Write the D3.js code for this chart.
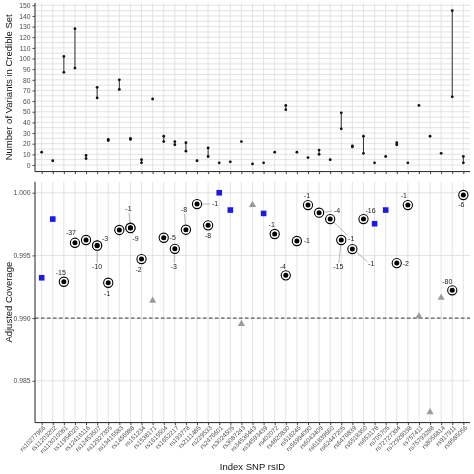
<!DOCTYPE html>
<html><head><meta charset="utf-8">
<script src="https://cdn.jsdelivr.net/npm/d3@7"></script>
<style>body{margin:0;background:transparent}svg{display:block;will-change:transform}text{font-family:"Liberation Sans",Arial,sans-serif}</style>
</head><body><svg id="c" width="474" height="474"></svg>
<script>
// ---------- DATA ----------
const snps = ["rs10277966","rs11203202","rs113010081","rs11954020","rs12416116","rs12453507","rs12927355","rs13415583","rs1456988","rs151234","rs1538171","rs1615504","rs1652217","rs193778","rs2111485","rs229533","rs2476601","rs3024505","rs3087243","rs34536443","rs34593439","rs402072","rs4820830","rs516246","rs56994090","rs6043409","rs61839660","rs62447205","rs6476839","rs6518350","rs653178","rs705705","rs72727394","rs72928038","rs757411","rs75793288","rs8056814","rs917911","rs9585056"];
// number of variants in credible set: min and max per index SNP
const nvarMin = [12,4,87,91,6,63,23,71,24,2,62,22,19,13,4,8,2,3,22,1,2,12,52,12,7,10,5,34,17,11,2,8,19,2,56,27,11,64,2];
const nvarMax = [12,4,102,128,9,73,24,80,25,5,62,27,22,21,4,16,2,3,22,1,2,12,56,12,7,14,5,49,18,27,2,8,21,2,56,27,11,145,8];
// adjusted coverage points
const covSnp = ["rs10277966","rs11203202","rs113010081","rs11954020","rs12416116","rs12453507","rs12453507","rs12927355","rs13415583","rs1456988","rs1456988","rs151234","rs1538171","rs1615504","rs1652217","rs193778","rs2111485","rs229533","rs2476601","rs3024505","rs3087243","rs34536443","rs34593439","rs402072","rs4820830","rs516246","rs56994090","rs6043409","rs61839660","rs62447205","rs6476839","rs6518350","rs653178","rs705705","rs72727394","rs72928038","rs757411","rs75793288","rs8056814","rs917911","rs9585056"];
const covValue = [0.99322,0.99790,0.99290,0.99601,0.99623,0.99581,0.99578,0.99282,0.99703,0.99721,0.99718,0.99471,0.99144,0.99641,0.99553,0.99705,0.99910,0.99740,1.00000,0.99862,0.98958,0.99907,0.99835,0.99671,0.99341,0.99615,0.99902,0.99841,0.99790,0.99623,0.99551,0.99790,0.99753,0.99862,0.99439,0.99902,0.99019,0.98254,0.99166,0.99222,0.99982];
const covType = ["square","square","bull","bull","bull","bull","bull","bull","bull","bull","bull","bull","triangle","bull","bull","bull","bull","bull","square","square","triangle","triangle","square","bull","bull","bull","bull","bull","bull","bull","bull","bull","square","square","bull","bull","triangle","triangle","triangle","bull","bull"];
const covLabel = [null,null,"-15","-37",null,"-3","-10","-1",null,"-1","-9","-2",null,"-5","-3","-8","-1","-8",null,null,null,null,null,"-1","-4","-1","-1","-4","-1","-15","-1","-16",null,null,"-2","-1",null,null,null,"-80","-6"];
const nvarTicks = d3.range(0,151,10);
const covTicks = [0.985,0.990,0.995,1.000];
const covThreshold = 0.990;

// ---------- LAYOUT ----------
// label offsets (px) from their point, mimicking the repelled placement
const labelNudge = [null,null,[-3,-9],[-4,-10],null,[8,-7],[0,21],[-1,11],null,[-2,-19],[5,10],[-3,10],null,[9,0],[-1,18],[-2,-20],[18,0],[0,10.5],null,null,null,null,null,[-3,-9.5],[-3,-9],[10,0],[-1,-9.5],[18,-2],[21,19],[-3,27],[19,15],[7,-9],null,null,[9,0],[-4,-9.5],null,null,null,[-5,-9],[-2,9.5]];

const svg = d3.select("#c");
svg.append("rect").attr("width",474).attr("height",474).attr("fill","#fff");
const L = 35, R = 470;
const x = d3.scalePoint().domain(snps).range([L,R]).padding(0.6);

// top panel
const nAll = nvarMin.concat(nvarMax);
const nLo = d3.min(nAll), nHi = d3.max(nAll), nPad = 0.05*(nHi-nLo);
const yT = d3.scaleLinear().domain([nLo-nPad, nHi+nPad]).range([171.6, 2.95]);
// bottom panel
const cLo = d3.min(covValue), cHi = d3.max(covValue), cPad = 0.05*(cHi-cLo);
const yB = d3.scaleLinear().domain([cLo-cPad, cHi+cPad]).range([422.6, 181.8]);

const gridC = "#dcdcdc";
// ---- top panel grid
const gT = svg.append("g");
gT.selectAll("line.h").data(d3.range(0,151,5)).join("line").attr("class","h")
  .attr("x1",L).attr("x2",R).attr("y1",d=>yT(d)).attr("y2",d=>yT(d))
  .attr("stroke",gridC).attr("stroke-width",0.8);
gT.selectAll("line.v").data(snps).join("line").attr("class","v")
  .attr("x1",d=>x(d)).attr("x2",d=>x(d)).attr("y1",yT.range()[1]).attr("y2",yT.range()[0])
  .attr("stroke",gridC).attr("stroke-width",0.8);
// ranges
const topData = snps.map((s,i)=>({s,lo:nvarMin[i],hi:nvarMax[i]}));
gT.selectAll("line.r").data(topData.filter(d=>d.hi>d.lo)).join("line").attr("class","r")
  .attr("x1",d=>x(d.s)).attr("x2",d=>x(d.s)).attr("y1",d=>yT(d.lo)).attr("y2",d=>yT(d.hi))
  .attr("stroke","#333").attr("stroke-width",1);
const topPts = [];
topData.forEach(d=>{topPts.push({s:d.s,v:d.lo}); if(d.hi>d.lo) topPts.push({s:d.s,v:d.hi});});
gT.selectAll("circle").data(topPts).join("circle")
  .attr("cx",d=>x(d.s)).attr("cy",d=>yT(d.v)).attr("r",1.4).attr("fill","#111");

// axes top
const axT = svg.append("g").attr("transform",`translate(${L},0)`)
  .call(d3.axisLeft(yT).tickValues(nvarTicks).tickSize(2.5).tickPadding(2));
const axTx = svg.append("g").attr("transform",`translate(0,${yT.range()[0]})`)
  .call(d3.axisBottom(x).tickSize(2.5).tickFormat(""));

// ---- bottom panel grid
const gB = svg.append("g");
gB.selectAll("line.h").data(covTicks).join("line").attr("class","h")
  .attr("x1",L).attr("x2",R).attr("y1",d=>yB(d)).attr("y2",d=>yB(d))
  .attr("stroke",gridC).attr("stroke-width",0.8);
gB.selectAll("line.v").data(snps).join("line").attr("class","v")
  .attr("x1",d=>x(d)).attr("x2",d=>x(d)).attr("y1",yB.range()[1]).attr("y2",yB.range()[0])
  .attr("stroke",gridC).attr("stroke-width",0.8);
gB.append("line").attr("x1",L).attr("x2",R).attr("y1",yB(covThreshold)).attr("y2",yB(covThreshold))
  .attr("stroke","#222").attr("stroke-width",0.9).attr("stroke-dasharray","3.5,2.5");

const pts = covSnp.map((s,i)=>({s,v:covValue[i],t:covType[i],lab:covLabel[i],n:labelNudge[i]}));
// label segments
const segs = pts.filter(d=>d.lab && Math.hypot(d.n[0],d.n[1])>11);
gB.selectAll("line.seg").data(segs).join("line").attr("class","seg")
  .attr("x1",d=>{const a=Math.atan2(d.n[1],d.n[0]);return x(d.s)+5*Math.cos(a);})
  .attr("y1",d=>{const a=Math.atan2(d.n[1],d.n[0]);return yB(d.v)+5*Math.sin(a);})
  .attr("x2",d=>{const a=Math.atan2(d.n[1],d.n[0]);const r=Math.hypot(d.n[0],d.n[1]);return x(d.s)+(r-5)*Math.cos(a);})
  .attr("y2",d=>{const a=Math.atan2(d.n[1],d.n[0]);const r=Math.hypot(d.n[0],d.n[1]);return yB(d.v)+(r-4)*Math.sin(a);})
  .attr("stroke","#888").attr("stroke-width",0.6);

// markers
gB.selectAll("rect.sq").data(pts.filter(d=>d.t==="square")).join("rect").attr("class","sq")
  .attr("x",d=>x(d.s)-2.8).attr("y",d=>yB(d.v)-2.8).attr("width",5.6).attr("height",5.6).attr("fill","#1a1aee");
gB.selectAll("path.tri").data(pts.filter(d=>d.t==="triangle")).join("path").attr("class","tri")
  .attr("d",d3.symbol(d3.symbolTriangle,22)).attr("transform",d=>`translate(${x(d.s)},${yB(d.v)+0.5})`).attr("fill","#9a9a9a");
const bulls = pts.filter(d=>d.t==="bull");
gB.selectAll("circle.o").data(bulls).join("circle").attr("class","o")
  .attr("cx",d=>x(d.s)).attr("cy",d=>yB(d.v)).attr("r",4.6).attr("fill","#fff").attr("stroke","#000").attr("stroke-width",1.1);
gB.selectAll("circle.i").data(bulls).join("circle").attr("class","i")
  .attr("cx",d=>x(d.s)).attr("cy",d=>yB(d.v)).attr("r",2.5).attr("fill","#000");
gB.selectAll("text.lab").data(pts.filter(d=>d.lab)).join("text").attr("class","lab")
  .attr("x",d=>x(d.s)+d.n[0]).attr("y",d=>yB(d.v)+d.n[1]).attr("dy","0.35em")
  .attr("text-anchor","middle").attr("font-size",7).attr("fill","#222").text(d=>d.lab);

// axes bottom
const axB = svg.append("g").attr("transform",`translate(${L},0)`)
  .call(d3.axisLeft(yB).tickValues(covTicks).tickFormat(d3.format(".3f")).tickSize(2.5).tickPadding(2));
const axBx = svg.append("g").attr("transform",`translate(0,${yB.range()[0]})`)
  .call(d3.axisBottom(x).tickSize(2.5).tickPadding(1));
axBx.selectAll("text").attr("text-anchor","end").attr("dx","-0.2em").attr("dy","0.5em")
  .attr("transform","rotate(-45)").attr("font-size",6.3);

[axT,axTx,axB,axBx].forEach(a=>{
  a.select(".domain").attr("stroke","#222").attr("stroke-width",1);
  a.selectAll(".tick line").attr("stroke","#444");
  a.selectAll(".tick text").attr("fill","#4d4d4d").style("font-family",'"Liberation Sans",Arial,sans-serif');
});
[axT,axB].forEach(a=>a.selectAll(".tick text").attr("font-size",6.8));
axT.select(".domain").attr("d",`M0,${yT.range()[1]}V${yT.range()[0]}`);
axB.select(".domain").attr("d",`M0,${yB.range()[1]}V${yB.range()[0]}`);
axTx.select(".domain").attr("d",`M${L},0H${R}`);
axBx.select(".domain").attr("d",`M${L},0H${R}`);

// titles
svg.append("text").attr("transform",`translate(12,${(yT.range()[0]+yT.range()[1])/2}) rotate(-90)`)
  .attr("text-anchor","middle").attr("font-size",9.5).attr("fill","#111").text("Number of Variants in Credible Set");
svg.append("text").attr("transform",`translate(12,${(yB.range()[0]+yB.range()[1])/2}) rotate(-90)`)
  .attr("text-anchor","middle").attr("font-size",9.5).attr("fill","#111").text("Adjusted Coverage");
svg.append("text").attr("x",(L+R)/2).attr("y",470)
  .attr("text-anchor","middle").attr("font-size",9.5).attr("fill","#111").text("Index SNP rsID");
</script></body></html>
